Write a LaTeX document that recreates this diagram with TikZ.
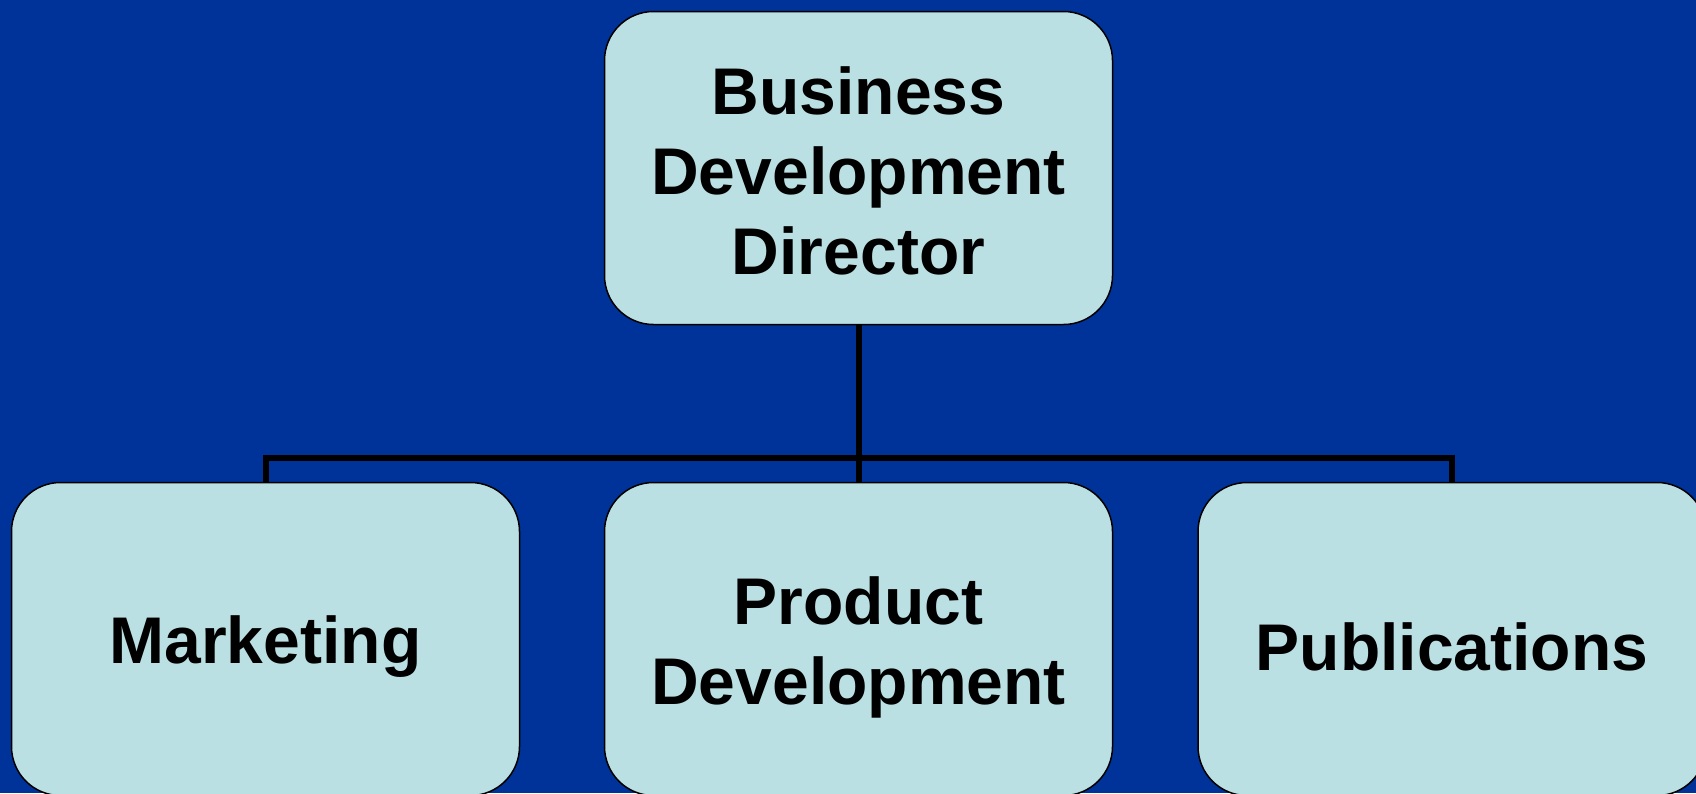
\documentclass[tikz,border=0pt]{standalone}
\usepackage{fontspec}
\setmainfont{Liberation Sans}
\definecolor{bgblue}{HTML}{003399}
\definecolor{boxfill}{HTML}{BBE0E3}
\tikzset{
  orgbox/.style={draw=black, line width=1.5pt, fill=boxfill, rounded corners=49pt,
    minimum width=508pt, minimum height=313pt, inner sep=0pt},
  orgtext/.style={inner sep=0pt, align=center, font=\fontsize{66}{80}\selectfont\bfseries},
  link/.style={draw=black, line width=6pt}
}
\begin{document}
\begin{tikzpicture}[x=1pt,y=-1pt]
\clip (0,0) rectangle (1696,793);
\fill[bgblue] (0,0) rectangle (1696,793);
\node[orgbox] (top) at (858.5,168) {};
\node[orgbox] (mkt) at (265.5,639) {};
\node[orgbox] (prod) at (858.5,639) {};
\node[orgbox] (pub) at (1452,639) {};
\node[orgtext] (topt) at (858.5,171) {Business\\Development\\Director};
\node[orgtext] (mktt) at (265.5,647) {Marketing};
\node[orgtext] (prodt) at (858.5,647) {Product\\Development};
\node[orgtext] (pubt) at (1452,647) {Publications};
\coordinate (j) at (858.5,458);
\draw[link] (top.south) -- (j);
\draw[link] (j) -- (prod.north);
\draw[link] (j) -| (mkt.north);
\draw[link] (j) -| (pub.north);
\end{tikzpicture}
\end{document}
